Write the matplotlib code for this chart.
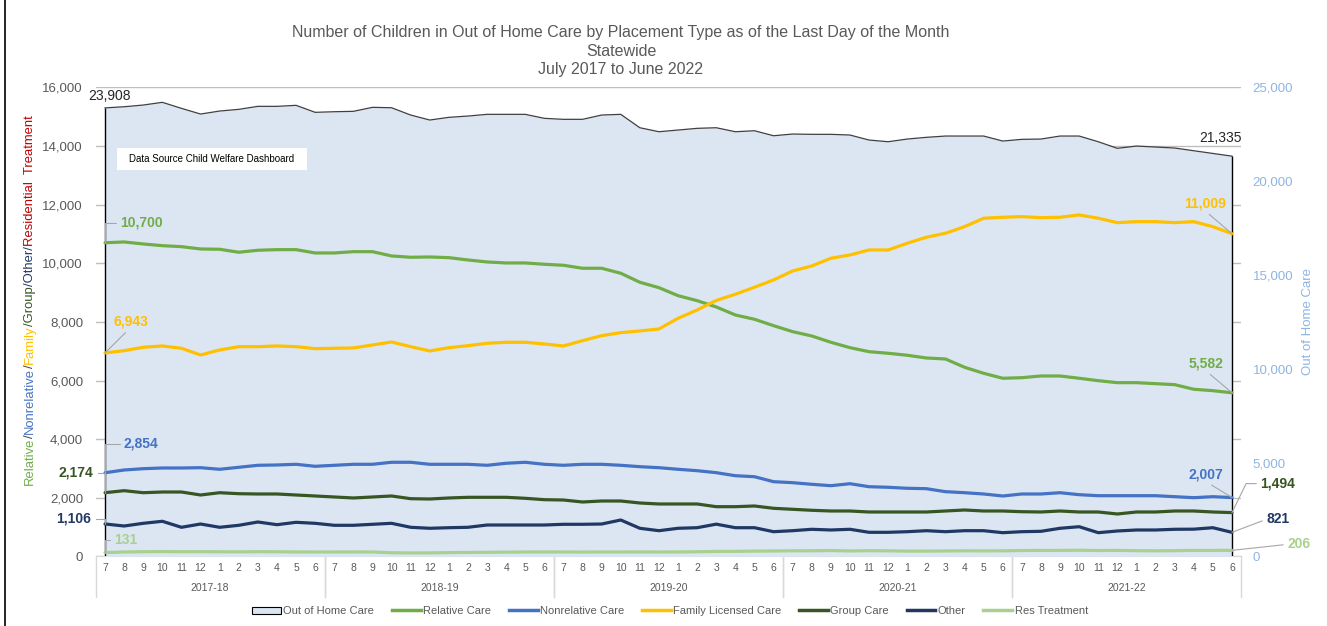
import matplotlib
matplotlib.use("Agg")
import matplotlib.pyplot as plt
from matplotlib.lines import Line2D
from matplotlib.patches import Patch, Rectangle
from matplotlib.ticker import FuncFormatter
import matplotlib.transforms as mtransforms

plt.rcParams['font.family'] = ['Liberation Sans', 'DejaVu Sans']

# months July 2017 .. June 2022
month_labels = ['7', '8', '9', '10', '11', '12', '1', '2', '3', '4', '5', '6'] * 5
fiscal_years = ['2017-18', '2018-19', '2019-20', '2020-21', '2021-22']

home = [23908, 23969, 24060, 24204, 23884, 23580, 23740, 23830, 23990, 23990, 24044, 23671,
        23703, 23724, 23937, 23916, 23527, 23261, 23404, 23473, 23564, 23564, 23564, 23351,
        23298, 23298, 23527, 23564, 22850, 22637, 22727, 22818, 22850, 22637, 22690, 22423,
        22514, 22498, 22498, 22461, 22194, 22104, 22247, 22338, 22407, 22407, 22407, 22141,
        22231, 22247, 22407, 22407, 22104, 21752, 21874, 21821, 21768, 21624, 21480, 21335]

relative = [10700, 10727, 10659, 10601, 10567, 10488, 10478, 10376, 10444, 10465, 10465, 10352,
            10352, 10396, 10396, 10250, 10205, 10215, 10192, 10113, 10045, 10011, 10011, 9966,
            9932, 9830, 9830, 9659, 9352, 9168, 8895, 8724, 8510, 8236, 8090, 7872,
            7667, 7520, 7305, 7121, 6984, 6930, 6862, 6769, 6735, 6452, 6247, 6077,
            6097, 6155, 6155, 6077, 5995, 5927, 5927, 5893, 5859, 5702, 5654, 5582]

nonrelative = [2854, 2948, 2992, 3016, 3016, 3026, 2972, 3040, 3108, 3119, 3142, 3074,
               3108, 3142, 3142, 3211, 3211, 3142, 3142, 3142, 3108, 3177, 3211, 3142,
               3108, 3142, 3142, 3108, 3061, 3026, 2972, 2924, 2856, 2753, 2719, 2549,
               2515, 2460, 2412, 2480, 2378, 2358, 2324, 2310, 2208, 2173, 2129, 2061,
               2129, 2129, 2173, 2105, 2071, 2071, 2071, 2071, 2037, 2003, 2037, 2007]

family = [6943, 7019, 7135, 7179, 7100, 6872, 7042, 7155, 7155, 7179, 7155, 7087,
          7100, 7111, 7213, 7315, 7155, 7008, 7121, 7189, 7271, 7305, 7305, 7247,
          7179, 7360, 7530, 7633, 7691, 7759, 8124, 8407, 8731, 8943, 9182, 9431,
          9738, 9909, 10171, 10284, 10454, 10454, 10683, 10888, 11024, 11249, 11536, 11570,
          11591, 11556, 11570, 11649, 11536, 11386, 11420, 11420, 11386, 11420, 11249, 11009]

group = [2174, 2242, 2173, 2197, 2197, 2095, 2173, 2139, 2129, 2129, 2095, 2061,
         2027, 1993, 2027, 2061, 1969, 1958, 1993, 2016, 2016, 2016, 1982, 1935,
         1924, 1856, 1890, 1890, 1822, 1788, 1788, 1788, 1696, 1696, 1720, 1641,
         1607, 1573, 1549, 1549, 1515, 1515, 1515, 1515, 1549, 1583, 1549, 1549,
         1525, 1515, 1549, 1515, 1515, 1447, 1515, 1515, 1549, 1549, 1515, 1494]

other = [1106, 1037, 1129, 1198, 993, 1105, 993, 1061, 1174, 1082, 1163, 1129,
         1061, 1061, 1095, 1129, 993, 959, 979, 993, 1071, 1071, 1071, 1071,
         1095, 1095, 1105, 1242, 959, 877, 959, 979, 1100, 979, 979, 843,
         877, 925, 901, 925, 822, 822, 843, 877, 843, 877, 877, 809,
         843, 856, 959, 1013, 809, 867, 901, 901, 925, 929, 979, 821]

res_treatment = [131, 150, 160, 165, 160, 160, 158, 155, 160, 158, 152, 150,
                 150, 152, 150, 125, 118, 120, 130, 135, 140, 145, 150, 152,
                 150, 148, 150, 150, 152, 150, 152, 158, 170, 172, 180, 185,
                 190, 192, 200, 185, 195, 190, 180, 180, 185, 190, 188, 190,
                 200, 205, 205, 210, 200, 205, 195, 190, 195, 205, 205, 206]

C_HOME_FILL = '#dce6f2'
C_REL = '#70ad47'
C_NONREL = '#4472c4'
C_FAM = '#ffc000'
C_GROUP = '#375623'
C_OTHER = '#203864'
C_RES = '#a9d18e'
C_TEXT = '#595959'
C_RIGHT = '#8eb4e3'

W, H = 1327, 626
fig = plt.figure(figsize=(W / 100, H / 100), dpi=100)

x = list(range(len(home)))

# base axes: left scale + gridlines (below the area)
ax = fig.add_axes([95.5 / W, 69.6 / H, 1146 / W, 469 / H])
ax.set_xlim(-0.5, len(x) - 0.5)
ax.set_ylim(0, 16000)
ax.set_yticks(range(0, 16001, 2000))
ax.yaxis.set_major_formatter(FuncFormatter(lambda v, p: f'{int(v):,}'))
ax.tick_params(axis='y', length=0, pad=9, labelsize=9.5, labelcolor=C_TEXT)
ax.grid(axis='y', color='#bfbfbf', lw=1)
ax.set_axisbelow(True)
for s in ['left', 'right', 'top']:
    ax.spines[s].set_visible(False)
ax.spines['bottom'].set_color('#d9d9d9')
ax.set_xticks(x)
ax.set_xticklabels(month_labels)
ax.tick_params(axis='x', length=0, pad=5, labelsize=7.5, labelcolor=C_TEXT)

# fiscal year groups under the month labels
trans = mtransforms.blended_transform_factory(ax.transData, ax.transAxes)
for k, fy in enumerate(fiscal_years):
    start, end = 12 * k - 0.5, 12 * k + 11.5
    ax.text((start + end) / 2, -0.068, fy, transform=trans, ha='center', va='center',
            fontsize=7.5, color=C_TEXT)
    for xb in (start, end):
        ax.add_line(Line2D([xb, xb], [0, -0.087], transform=trans, color='#d9d9d9',
                           lw=1, clip_on=False))

# right scale: out of home care area
ax2 = ax.twinx()
ax2.set_ylim(0, 25000)
ax2.set_yticks(range(0, 25001, 5000))
ax2.yaxis.set_major_formatter(FuncFormatter(lambda v, p: f'{int(v):,}'))
ax2.tick_params(axis='y', length=0, pad=8, labelsize=9.5, labelcolor=C_RIGHT)
for s in ax2.spines.values():
    s.set_visible(False)
ax2.fill_between(x, home, 0, color=C_HOME_FILL, lw=0)
ax2.plot(x, home, color='#404040', lw=0.9)
ax2.vlines([x[0], x[-1]], 0, [home[0], home[-1]], color='black', lw=1)
ax2.set_ylabel('Out of Home Care', color=C_RIGHT, fontsize=9.5, labelpad=6)

# left scale: placement type lines
ax3 = ax.twinx()
ax3.set_ylim(0, 16000)
ax3.set_axis_off()
series = [(relative, C_REL), (nonrelative, C_NONREL), (family, C_FAM),
          (group, C_GROUP), (other, C_OTHER), (res_treatment, C_RES)]
for vals, col in series:
    ax3.plot(x, vals, color=col, lw=2.3, solid_capstyle='round')

PX = 0.72  # pixels -> points


def label(axis, vals, i, col, dx, dy, leader=None, relpos=(0.5, 0.5), bold=True):
    kw = dict(textcoords='offset points', ha='center', va='center', color=col,
              fontsize=10, fontweight='bold' if bold else 'normal', annotation_clip=False)
    if leader is not None:
        kw['arrowprops'] = dict(arrowstyle='-', color='#a6a6a6', lw=0.8, shrinkA=1,
                                shrinkB=0, connectionstyle=leader, relpos=relpos)
    axis.annotate(f'{vals[i]:,}', xy=(x[i], vals[i]), xytext=(dx * PX, dy * PX), **kw)


L = 'angle,angleA=0,angleB=90,rad=0'
S = 'arc3'
label(ax2, home, 0, '#262626', 4, 12, bold=False)
label(ax2, home, -1, '#262626', -11, 18, bold=False)
label(ax3, relative, 0, C_REL, 36, 20, L, (0, 0.5))
label(ax3, family, 0, C_FAM, 26, 31, S, (0.45, 0))
label(ax3, nonrelative, 0, C_NONREL, 36, 29, L, (0, 0.5))
label(ax3, group, 0, C_GROUP, -29, 20, L, (1, 0.5))
label(ax3, other, 0, C_OTHER, -31, 5, L, (1, 0.5))
label(ax3, res_treatment, 0, C_RES, 21, 13, L, (0, 0.5))
label(ax3, family, -1, C_FAM, -27, 30, S, (0.5, 0))
label(ax3, relative, -1, C_REL, -26, 29, S, (0.5, 0))
label(ax3, nonrelative, -1, C_NONREL, -26, 23, S, (0.5, 0))
label(ax3, group, -1, C_GROUP, 46, 29, 'angle,angleA=0,angleB=64,rad=0', (0, 0.5))
label(ax3, other, -1, C_OTHER, 46, 13, S, (0, 0.5))
label(ax3, res_treatment, -1, C_RES, 67, 6, S, (0, 0.5))

# data source box
ax3.add_patch(Rectangle((0.0188, 0.824), 0.1658, 0.047, transform=ax3.transAxes,
                        facecolor='white', edgecolor='none', clip_on=False))
ax3.text(0.1017, 0.8475, 'Data Source Child Welfare Dashboard', transform=ax3.transAxes,
         ha='center', va='center', fontsize=7, color='black')

# title
fig.text(621 / W, 1 - 25 / H,
         'Number of Children in Out of Home Care by Placement Type as of the Last Day of the Month\n'
         'Statewide\nJuly 2017 to June 2022',
         ha='center', va='top', fontsize=11.5, color=C_TEXT, linespacing=1.3)

# multi-coloured left axis title
parts = [('Relative', C_REL), ('/', '#404040'), ('Nonrelative', C_NONREL), ('/', '#404040'),
         ('Family', C_FAM), ('/Group', C_GROUP), ('/Other/', C_OTHER),
         ('Residential  Treatment', '#c00000')]
renderer = fig.canvas.get_renderer()
ypos = H - 485
for txt, col in parts:
    t = fig.text(33 / W, ypos / H, txt, rotation=90, rotation_mode='anchor',
                 ha='left', va='baseline', fontsize=9.4, color=col)
    ypos += t.get_window_extent(renderer).height

# legend
handles = [Patch(facecolor=C_HOME_FILL, edgecolor='black', lw=0.8)]
handles += [Line2D([], [], color=c, lw=2.5) for _, c in series]
names = ['Out of Home Care', 'Relative Care', 'Nonrelative Care', 'Family Licensed Care',
         'Group Care', 'Other', 'Res Treatment']
fig.legend(handles, names, loc='center', bbox_to_anchor=(670 / W, 1 - 611 / H), ncol=7,
           frameon=False, fontsize=8, labelcolor=C_TEXT, handlelength=2.6,
           handletextpad=0.2, columnspacing=1.6, handleheight=0.6)

# chart border on the left
fig.add_artist(Line2D([5 / W, 5 / W], [0, 1], color='black', lw=1.2))

fig.savefig('out.png', dpi=100)
